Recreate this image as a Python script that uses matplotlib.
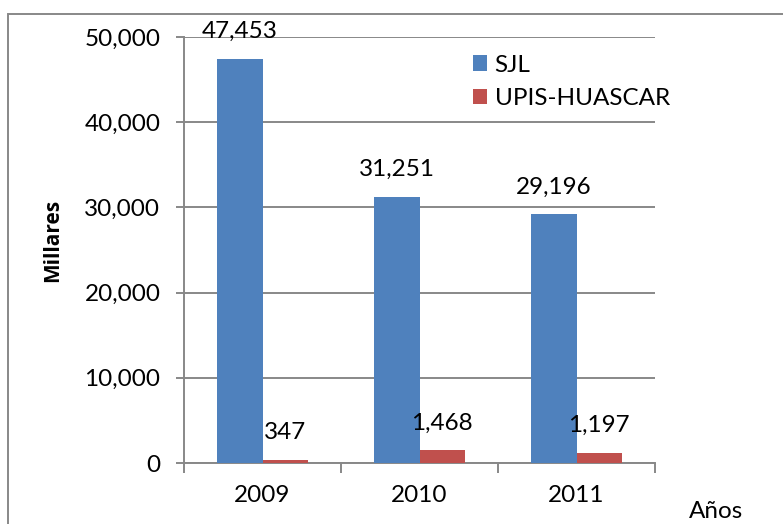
import numpy as np
import matplotlib.pyplot as plt
from matplotlib.patches import Rectangle
from matplotlib.ticker import FuncFormatter, FixedLocator

plt.rcParams['font.family'] = ['Lato', 'DejaVu Sans']

years = ["2009", "2010", "2011"]
sjl = [47453, 31251, 29196]
upis = [347, 1468, 1197]
series_names = ["SJL", "UPIS-HUASCAR"]

blue = "#4F81BD"
red = "#C0504D"
grid_gray = "#888888"
fs = 17.5

fig = plt.figure(figsize=(7.83, 5.24), dpi=100)
W, H = 783, 524
ax = fig.add_axes([184 / W, 1 - 463 / H, (655 - 184) / W, (463 - 37) / H])

# outer chart frame (runs off the right and bottom edges)
fig.patches.append(Rectangle((8 / W, -0.1), 1.2, 1 - 14 / H + 0.1,
                             transform=fig.transFigure, fill=False,
                             edgecolor=grid_gray, lw=1.4))

x = np.arange(len(years))
w = 0.29
b1 = ax.bar(x - w / 2, sjl, w, color=blue, label=series_names[0], zorder=3)
b2 = ax.bar(x + w / 2, upis, w, color=red, label=series_names[1], zorder=3)

for bars, vals in ((b1, sjl), (b2, upis)):
    for rect, v in zip(bars, vals):
        ax.annotate(f"{v:,}", (rect.get_x() + rect.get_width() / 2, v),
                    xytext=(0, 19.5), textcoords="offset points",
                    ha="center", va="center", fontsize=fs, zorder=4)

ax.set_ylim(0, 50000)
ax.set_xlim(-0.5, 2.5)
ax.set_yticks(np.arange(0, 50001, 10000))
ax.yaxis.set_major_formatter(FuncFormatter(lambda v, p: f"{int(v):,}"))
ax.set_xticks(x)
ax.set_xticklabels(years)
ax.xaxis.set_minor_locator(FixedLocator([-0.5, 0.5, 1.5, 2.5]))
ax.tick_params(axis="x", which="major", length=0, pad=16, labelsize=fs)
ax.tick_params(axis="x", which="minor", length=7, width=1.4, color=grid_gray)
ax.tick_params(axis="y", length=6, width=1.4, color=grid_gray, pad=11, labelsize=fs)

ax.grid(axis="y", color=grid_gray, lw=1.4, zorder=0)
for side in ("top", "right"):
    ax.spines[side].set_visible(False)
for side in ("left", "bottom"):
    ax.spines[side].set_color(grid_gray)
    ax.spines[side].set_linewidth(1.4)

fig.text(53 / W, 1 - 240 / H, "Millares", rotation=90, fontsize=15,
         fontweight="bold", family=["Open Sans", "DejaVu Sans"],
         ha="center", va="center")
fig.text(716 / W, 1 - 512 / H, "Años", fontsize=fs, ha="center", va="center")

ax.legend(loc="upper left", bbox_to_anchor=((463 - 184) / (655 - 184), (463 - 45) / 426),
          frameon=False, fontsize=fs, handlelength=0.6, handleheight=0.6,
          handletextpad=0.3, labelspacing=0.5, borderaxespad=0)

fig.savefig("out.png", dpi=100)
